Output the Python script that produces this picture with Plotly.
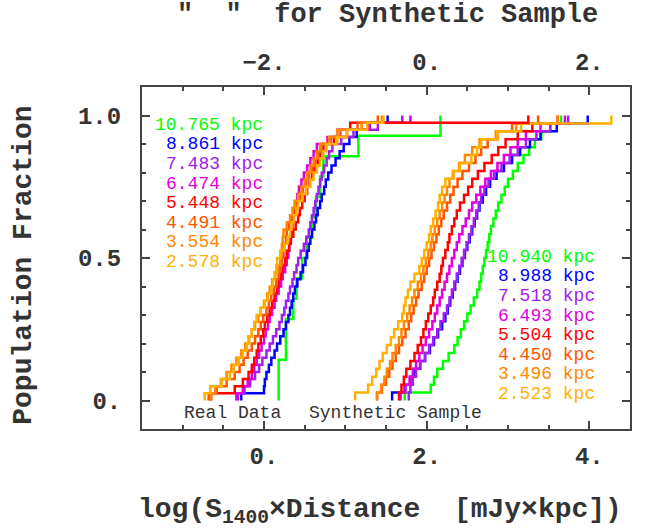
import plotly.graph_objects as go

# ---------------- data ----------------
colors = ["#00ff00", "#0000ff", "#a020f0", "#e000e0", "#ff0000", "#ff5500", "#ff8800", "#ffb000"]
real_labels = ["10.765 kpc", "8.861 kpc", "7.483 kpc", "6.474 kpc",
               "5.448 kpc", "4.491 kpc", "3.554 kpc", "2.578 kpc"]
synth_labels = ["10.940 kpc", "8.988 kpc", "7.518 kpc", "6.493 kpc",
                "5.504 kpc", "4.450 kpc", "3.496 kpc", "2.523 kpc"]

# sorted log(S1400 x D) values, real data (one list per distance)
real_green = [0.18, 0.18, 0.27, 0.27, 0.36, 0.40, 0.47, 0.52, 0.59, 0.64, 0.69, 0.73, 1.16, 2.17]
real_blue = [-0.28, 0.00, 0.01, 0.03, 0.06, 0.09, 0.13, 0.16, 0.20, 0.24, 0.27, 0.30, 0.32, 0.34,
             0.36, 0.38, 0.41, 0.45, 0.48, 0.51, 0.53, 0.55, 0.57, 0.59, 0.62, 0.64, 0.66, 0.69,
             0.71, 0.74, 0.76, 0.79, 0.83, 0.88, 0.93, 0.98, 1.05, 1.14, 1.30, 1.52]
real_purple = [-0.34, -0.24, -0.17, -0.11, -0.06, -0.02, 0.03, 0.07, 0.11, 0.15, 0.19, 0.22, 0.25,
               0.27, 0.30, 0.32, 0.35, 0.37, 0.40, 0.42, 0.45, 0.49, 0.52, 0.55, 0.57, 0.59, 0.61,
               0.63, 0.65, 0.67, 0.69, 0.71, 0.74, 0.77, 0.80, 0.84, 0.95, 1.10, 1.40, 1.70]
real_magenta = [-0.32, -0.26, -0.20, -0.15, -0.12, -0.09, -0.06, -0.03, 0.00, 0.02, 0.05, 0.07, 0.10,
                0.13, 0.15, 0.18, 0.21, 0.23, 0.26, 0.28, 0.30, 0.31, 0.33, 0.34, 0.35, 0.36, 0.37,
                0.38, 0.41, 0.43, 0.46, 0.49, 0.53, 0.57, 0.61, 0.65, 0.78, 0.90, 1.30, 1.80]
real_red = [-0.65, -0.36, -0.26, -0.19, -0.15, -0.12, -0.09, -0.07, -0.04, -0.01, 0.01, 0.04, 0.07,
            0.10, 0.13, 0.16, 0.18, 0.21, 0.23, 0.26, 0.28, 0.31, 0.33, 0.36, 0.39, 0.42, 0.44,
            0.47, 0.50, 0.53, 0.56, 0.59, 0.62, 0.66, 0.69, 0.73, 0.86, 1.02, 1.06, 3.25]
real_redorange = [-0.68, -0.58, -0.46, -0.36, -0.30, -0.25, -0.20, -0.15, -0.11, -0.07, -0.04, -0.01,
                  0.03, 0.06, 0.09, 0.12, 0.15, 0.18, 0.20, 0.22, 0.24, 0.25, 0.27, 0.28, 0.31, 0.34,
                  0.37, 0.40, 0.44, 0.48, 0.52, 0.55, 0.59, 0.63, 0.67, 0.71, 0.82, 0.94, 1.15, 1.40]
real_orange = [-0.65, -0.60, -0.53, -0.46, -0.40, -0.34, -0.28, -0.23, -0.19, -0.15, -0.11, -0.07,
               -0.04, 0.00, 0.04, 0.07, 0.10, 0.14, 0.17, 0.20, 0.21, 0.22, 0.23, 0.24, 0.28, 0.32,
               0.35, 0.38, 0.42, 0.46, 0.50, 0.53, 0.57, 0.61, 0.65, 0.69, 0.80, 0.90, 1.20, 1.45]
real_yellow = [-0.73, -0.66, -0.52, -0.42, -0.37, -0.31, -0.26, -0.21, -0.18, -0.15, -0.12, -0.09,
               -0.04, 0.01, 0.05, 0.09, 0.11, 0.13, 0.15, 0.16, 0.20, 0.25, 0.29, 0.32, 0.34, 0.37,
               0.40, 0.42, 0.47, 0.52, 0.57, 0.61, 0.65, 0.69, 0.73, 0.77, 0.90, 1.02, 1.27, 1.47]

# sorted values, synthetic sample
syn_green = [1.73, 2.05, 2.09, 2.13, 2.20, 2.27, 2.34, 2.38, 2.42, 2.46, 2.50, 2.54, 2.58, 2.62, 2.65, 2.67,
             2.69, 2.71, 2.73, 2.75, 2.77, 2.79, 2.82, 2.85, 2.88, 2.92, 2.96, 3.00, 3.06, 3.12, 3.19, 3.26,
             3.33, 3.41, 3.52, 3.65]
syn_blue = [1.575, 1.73, 1.80, 1.86, 1.92, 1.98, 2.04, 2.09, 2.14, 2.19, 2.23, 2.26, 2.29, 2.32, 2.35, 2.38,
            2.41, 2.44, 2.47, 2.50, 2.53, 2.56, 2.59, 2.62, 2.65, 2.69, 2.73, 2.78, 2.86, 2.95, 3.05, 3.15,
            3.27, 3.40, 3.60, 3.98]
syn_purple = [1.78, 1.80, 1.83, 1.87, 1.92, 1.98, 2.03, 2.08, 2.13, 2.17, 2.21, 2.25, 2.28, 2.31, 2.34, 2.37,
              2.40, 2.43, 2.46, 2.49, 2.52, 2.55, 2.58, 2.61, 2.64, 2.67, 2.71, 2.76, 2.83, 2.92, 3.02, 3.12,
              3.22, 3.35, 3.52, 3.74]
syn_magenta = [1.68, 1.74, 1.79, 1.83, 1.87, 1.91, 1.95, 1.99, 2.03, 2.07, 2.10, 2.13, 2.16, 2.19, 2.22, 2.25,
               2.28, 2.31, 2.34, 2.37, 2.40, 2.44, 2.48, 2.52, 2.56, 2.61, 2.66, 2.72, 2.79, 2.87, 2.95, 3.03,
               3.12, 3.22, 3.40, 3.70]
syn_red = [1.66, 1.69, 1.72, 1.75, 1.80, 1.85, 1.89, 1.93, 1.96, 1.99, 2.02, 2.05, 2.08, 2.10, 2.13, 2.16,
           2.18, 2.20, 2.23, 2.26, 2.28, 2.31, 2.34, 2.37, 2.41, 2.46, 2.51, 2.56, 2.63, 2.71, 2.80, 2.88,
           2.97, 3.12, 3.30, 3.61]
syn_redorange = [1.39, 1.45, 1.50, 1.54, 1.58, 1.62, 1.66, 1.70, 1.74, 1.78, 1.81, 1.84, 1.87, 1.90, 1.94, 1.97,
                 2.00, 2.03, 2.06, 2.09, 2.12, 2.15, 2.18, 2.21, 2.25, 2.29, 2.33, 2.38, 2.44, 2.52, 2.60, 2.67,
                 2.75, 2.87, 3.05, 3.37]
syn_orange = [1.39, 1.44, 1.48, 1.51, 1.55, 1.58, 1.62, 1.66, 1.69, 1.72, 1.76, 1.79, 1.82, 1.85, 1.89, 1.93,
              1.96, 1.99, 2.02, 2.05, 2.07, 2.10, 2.13, 2.16, 2.19, 2.22, 2.25, 2.28, 2.33, 2.40, 2.47, 2.56,
              2.65, 2.85, 3.10, 3.61]
syn_yellow = [1.12, 1.28, 1.33, 1.38, 1.42, 1.46, 1.51, 1.56, 1.60, 1.65, 1.70, 1.72, 1.74, 1.77, 1.80, 1.85,
              1.91, 1.94, 1.97, 2.00, 2.03, 2.05, 2.08, 2.11, 2.14, 2.16, 2.19, 2.23, 2.32, 2.41, 2.55, 2.62,
              2.67, 2.87, 3.16, 4.27]

real_sets = [real_green, real_blue, real_purple, real_magenta, real_red, real_redorange, real_orange, real_yellow]
syn_sets = [syn_green, syn_blue, syn_purple, syn_magenta, syn_red, syn_redorange, syn_orange, syn_yellow]

xticks_bottom = [0, 2, 4]
xticktext_bottom = ["0.", "2.", "4."]
xticks_top = [-2, 0, 2]
xticktext_top = ["\u22122.", "0.", "2."]
yticks = [0, 0.5, 1.0]
yticktext = ["0.", "0.5", "1.0"]

# ---------------- figure ----------------
FONT = "Liberation Mono, Courier New, monospace"
TXT = "#333333"
AX = "#444444"


def cdf(xs):
    n = len(xs)
    return [xs[0]] + list(xs), [0.0] + [(i + 1) / n for i in range(n)]


fig = go.Figure()
for sets in (syn_sets, real_sets):
    for xs, c in zip(sets, colors):
        cx, cy = cdf(xs)
        fig.add_trace(go.Scatter(x=cx, y=cy, mode="lines", line=dict(color=c, width=2.5, shape="hv"),
                                 showlegend=False, hoverinfo="skip"))
# empty trace so that the top and right axes are drawn
fig.add_trace(go.Scatter(x=[], y=[], xaxis="x2", yaxis="y2", showlegend=False, hoverinfo="skip"))

tick_common = dict(ticks="inside", ticklen=8, tickwidth=2, tickcolor=AX, automargin=False,
                   showline=True, linewidth=2, linecolor=AX, showgrid=False, zeroline=False,
                   tickfont=dict(family=FONT, size=24, color=TXT, weight="bold"))

fig.update_layout(
    template="none",
    width=648, height=529,
    margin=dict(l=142, r=18, t=87, b=100),
    paper_bgcolor="white", plot_bgcolor="white",
    hovermode=False,
    xaxis=dict(range=[-1.5, 4.5], tickmode="array", tickvals=xticks_bottom, ticktext=xticktext_bottom,
               minor=dict(tickmode="linear", tick0=0, dtick=0.5, ticks="inside", ticklen=4, tickwidth=2, tickcolor=AX),
               ticklabelstandoff=4, **tick_common),
    xaxis2=dict(range=[-3.5, 2.5], overlaying="x", side="top", anchor="y2", tickmode="array",
                tickvals=xticks_top, ticktext=xticktext_top,
                minor=dict(tickmode="linear", tick0=0, dtick=0.5, ticks="inside", ticklen=4, tickwidth=2, tickcolor=AX),
                ticklabelstandoff=5, **tick_common),
    yaxis=dict(range=[-0.1, 1.1], tickmode="array", tickvals=yticks, ticktext=yticktext,
               minor=dict(tickmode="linear", tick0=0, dtick=0.1, ticks="inside", ticklen=4, tickwidth=2, tickcolor=AX),
               ticklabelstandoff=14, **tick_common),
    yaxis2=dict(range=[-0.1, 1.1], overlaying="y", side="right", anchor="x2", tickmode="array",
                tickvals=yticks, showticklabels=False,
                minor=dict(tickmode="linear", tick0=0, dtick=0.1, ticks="inside", ticklen=4, tickwidth=2, tickcolor=AX),
                **tick_common),
)

ann = []
LF = dict(family=FONT, size=18)
for i, (lab, c) in enumerate(zip(real_labels, colors)):
    ann.append(dict(x=0.01, y=0.967 - i * 0.0686, xref="x", yref="y", text=lab, showarrow=False,
                    xanchor="right", yanchor="middle", font=dict(color=c, **LF)))
for i, (lab, c) in enumerate(zip(synth_labels, colors)):
    ann.append(dict(x=4.09, y=0.504 - i * 0.0686, xref="x", yref="y", text=lab, showarrow=False,
                    xanchor="right", yanchor="middle", font=dict(color=c, **LF)))
ann.append(dict(x=-0.39, y=-0.043, xref="x", yref="y", text="Real Data", showarrow=False,
                xanchor="center", yanchor="middle", font=dict(family=FONT, size=18, color=TXT)))
ann.append(dict(x=1.62, y=-0.043, xref="x", yref="y", text="Synthetic Sample", showarrow=False,
                xanchor="center", yanchor="middle", font=dict(family=FONT, size=18, color=TXT)))
TF = dict(family=FONT, size=28, color=TXT, weight="bold")
ann.append(dict(x=0.503, y=1.2105, xref="paper", yref="paper",
                text="\"\u00a0\u00a0\"\u00a0\u00a0for Synthetic Sample", showarrow=False,
                xanchor="center", yanchor="middle", font=dict(family=FONT, size=27, color=TXT, weight="bold")))
ann.append(dict(x=0.487, y=-0.24, xref="paper", yref="paper",
                text="log(S<sub>1400</sub>\u00d7Distance\u00a0\u00a0[mJy\u00d7kpc])", showarrow=False,
                xanchor="center", yanchor="middle", font=TF))
ann.append(dict(x=-0.242, y=0.48, xref="paper", yref="paper", text="Population Fraction",
                textangle=-90, showarrow=False, xanchor="center", yanchor="middle", font=TF))
fig.update_layout(annotations=ann)

fig.write_html("out.html", config={"displayModeBar": False},
               post_script="document.body.style.margin='0px';")
